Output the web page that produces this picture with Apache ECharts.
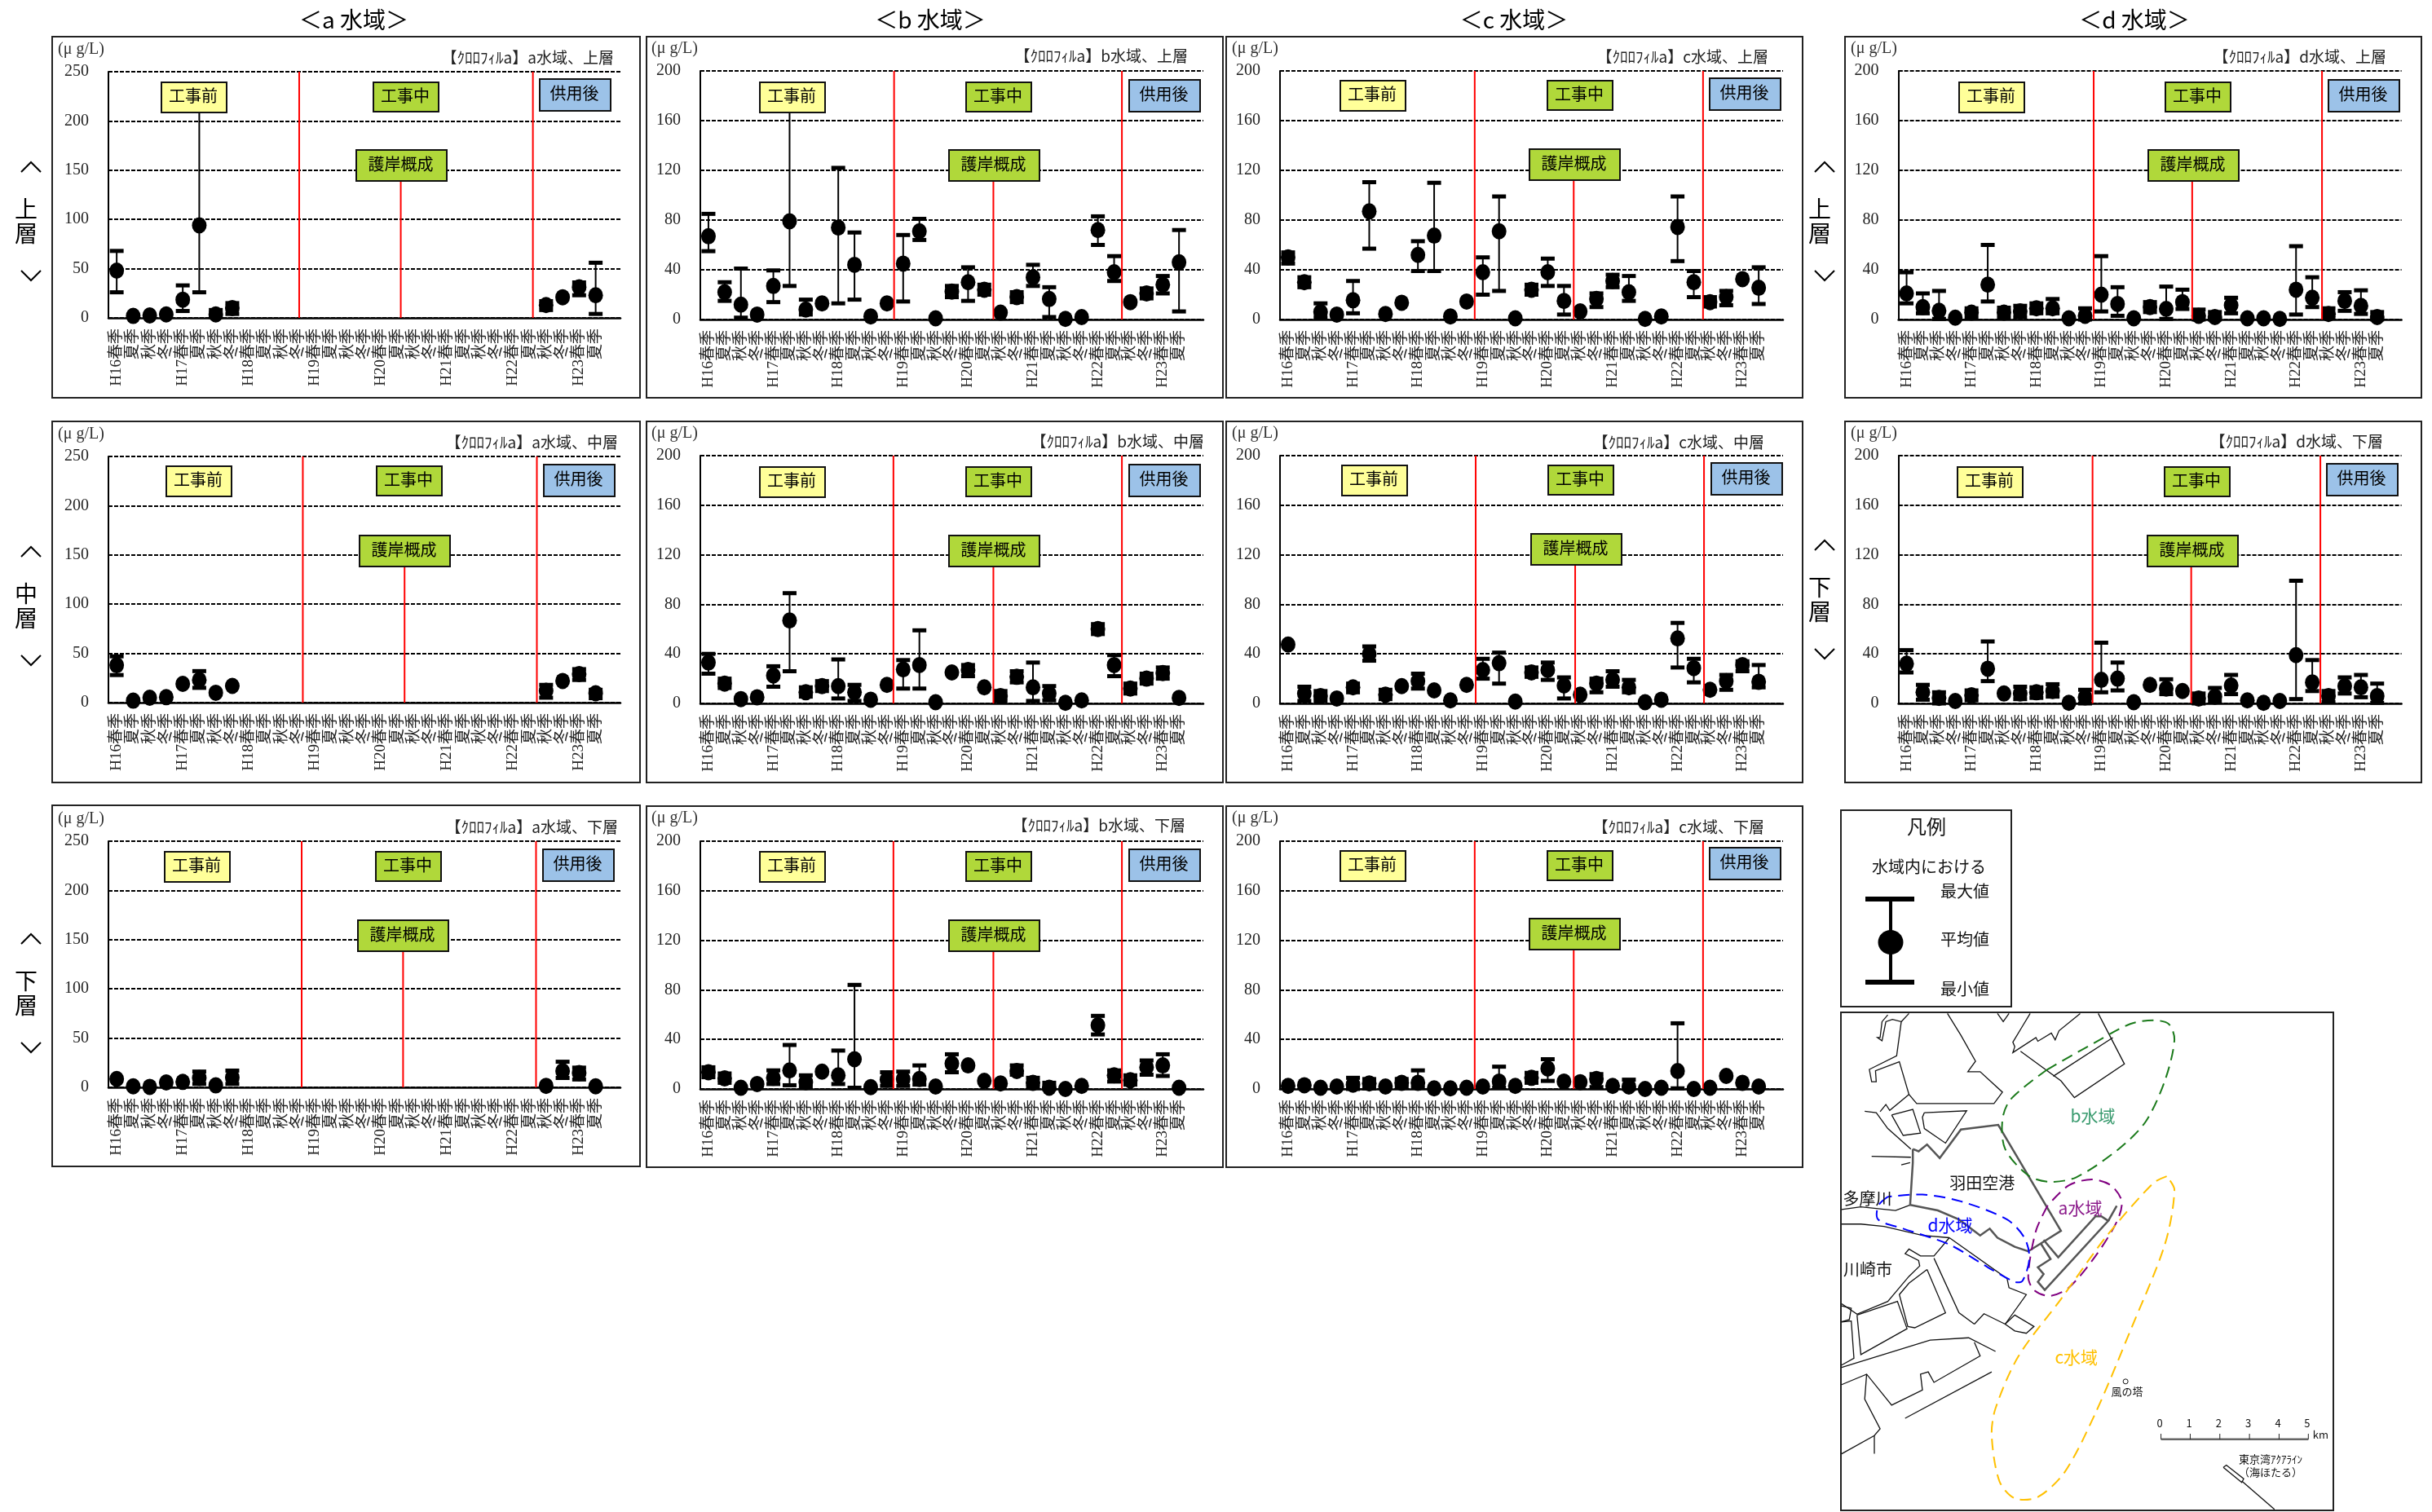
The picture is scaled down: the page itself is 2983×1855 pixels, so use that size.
<!DOCTYPE html>
<html style="height: 100%">
<head>
    <meta charset="utf-8">
    <script src="https://cdn.jsdelivr.net/npm/echarts@6/dist/echarts.min.js"></script>
</head>
<body style="height: 100%; margin: 0; background: #fff">
    <div id="container" style="width: 2983px; height: 1855px"></div>
    <script type="text/javascript">
        var myChart = echarts.init(document.getElementById('container'));

        const serif = '"Liberation Serif", "Noto Sans CJK JP", serif';
        const gothic = '"Noto Sans CJK JP", sans-serif';
        const N = null;

        // 横軸ラベル（最後の1区間は空き）
        const categories = [
            'H16春季', '夏季', '秋季', '冬季', 'H17春季', '夏季', '秋季', '冬季',
            'H18春季', '夏季', '秋季', '冬季', 'H19春季', '夏季', '秋季', '冬季',
            'H20春季', '夏季', '秋季', '冬季', 'H21春季', '夏季', '秋季', '冬季',
            'H22春季', '夏季', '秋季', '冬季', 'H23春季', '夏季', ''
        ];
        const ticksA = 50, ticksB = 40;

        // a水域
        const aUpperMean = [48, 2, 2.5, 3.5, 18.5, 94, 3.5, 10, N, N, N, N, N, N, N, N, N, N, N, N, N, N, N, N, N, N, 13, 21, 31, 23];
        const aUpperMax = [68, N, N, N, 33, 210, 8, 15, N, N, N, N, N, N, N, N, N, N, N, N, N, N, N, N, N, N, 17, N, 36, 56];
        const aUpperMin = [26, N, N, N, 7, 26, 1, 4, N, N, N, N, N, N, N, N, N, N, N, N, N, N, N, N, N, N, 8, N, 23, 4];
        const aMiddleMean = [38, 2, 5, 5.5, 19, 23, 10, 17, N, N, N, N, N, N, N, N, N, N, N, N, N, N, N, N, N, N, 12, 22, 29, 9.5];
        const aMiddleMax = [47, N, N, N, N, 32, N, N, N, N, N, N, N, N, N, N, N, N, N, N, N, N, N, N, N, N, 18, N, 34, 13];
        const aMiddleMin = [28, N, N, N, N, 15, N, N, N, N, N, N, N, N, N, N, N, N, N, N, N, N, N, N, N, N, 5, N, 23, 4.5];
        const aLowerMean = [8.5, 1, 0.5, 5, 5.5, 9.5, 2, 10, N, N, N, N, N, N, N, N, N, N, N, N, N, N, N, N, N, N, 1.5, 16.5, 14.5, 1];
        const aLowerMax = [N, N, N, N, N, 16, N, 17, N, N, N, N, N, N, N, N, N, N, N, N, N, N, N, N, N, N, N, 26, 20, N];
        const aLowerMin = [N, N, N, N, N, 3.5, N, 3.5, N, N, N, N, N, N, N, N, N, N, N, N, N, N, N, N, N, N, N, 9.5, 8, N];

        // b水域
        const bUpperMean = [67, 22, 12, 4, 27, 79, 8, 13, 74, 44, 2.5, 13, 45, 71, 1, 22.5, 30, 24, 5.5, 18, 34, 16.5, 0.5, 2, 72, 38, 14, 21, 28, 46];
        const bUpperMax = [85, 30, 41, N, 39.5, 168, 16, N, 122, 70, N, N, 68, 81, N, 27, 42, 28, N, 22, 44, 26, N, N, 83, 51, N, 25, 35, 72];
        const bUpperMin = [55, 15, 1.5, N, 14, 27, 4, N, 13, 16, N, N, 14.5, 64, N, 18, 15, 20, N, 14, 27, 2, N, N, 60, 31, N, 17, 21, 6.5];
        const bMiddleMean = [33, 16, 3.5, 5, 22.5, 67, 9, 14, 14, 9, 3, 15, 27.5, 31, 1, 25, 27, 13, 6, 21.5, 13, 8, 0.5, 2.5, 60, 31, 12, 20, 24.5, 4.5];
        const bMiddleMax = [40, 20, N, N, 30, 89, 13, 18, 35.5, 15, N, N, 35, 59, N, N, 31, N, 10, 26, 33, 14, N, N, 64, 39, 16, 24, 29, N];
        const bMiddleMin = [24, 12.5, N, N, 13.5, 26, 5.5, 10, 4, 2, N, N, 12, 12, N, N, 22, N, 2, 17, 2, 2.5, N, N, 56, 22, 8, 16, 20, N];
        const bLowerMean = [13.5, 8.5, 1, 4, 9, 15, 5.5, 14, 11, 24, 1.5, 7.5, 8, 8, 2, 20.5, 19, 6.5, 4.5, 14.5, 5, 1, 0, 2.5, 51.5, 11, 7, 17.5, 19, 1];
        const bLowerMax = [17.5, 12.5, N, N, 15, 35.5, 11, N, 31, 84, N, 13.5, 14, 19, N, 28, N, N, N, 19, 9, 5, N, N, 59, 15, 11, 23, 28, N];
        const bLowerMin = [9.5, 5, N, N, 4, 3, 1.5, N, 4, 1, N, 2.5, 2.5, 3.5, N, 13.5, N, N, N, 11.5, 1.5, 0, N, N, 44, 6, 3.5, 11.5, 10.5, N];

        // c水域
        const cUpperMean = [50, 30, 6, 4, 15.5, 87, 4.5, 13.5, 52, 67.5, 2.5, 14.5, 38, 71, 1, 24, 38, 15, 6.5, 16.5, 31, 22, 0.5, 2.5, 74.5, 30, 14, 18, 32.5, 25.5];
        const cUpperMax = [54, 34, 13, N, 31, 110.5, N, N, 63, 110, N, N, 50, 99, N, 28, 49, 27, N, 21, 36, 35, N, N, 99, 39, 18, 23, N, 42];
        const cUpperMin = [45, 26, 1.5, N, 5, 57, N, N, 39, 39, N, N, 20, 23, N, 20, 27, 4, N, 10, 26, 15, N, N, 47, 18, 10.5, 11.5, N, 12.5];
        const cMiddleMean = [47.5, 8, 6, 4, 13, 40, 7, 14, 18, 10.5, 2.5, 15, 27, 32.5, 1.5, 25, 27, 14.5, 7, 16, 19, 13, 1, 3, 52.5, 28.5, 11, 18, 31, 17.5];
        const cMiddleMax = [N, 13.5, 10, N, 16, 46, 11, N, 24, N, N, N, 36, 41, N, 29, 33, 21, N, 20, 26, 19, N, N, 65, 36, N, 23, 34, 31];
        const cMiddleMin = [N, 2, 2, N, 9, 34.5, 3.5, N, 12, N, N, N, 20, 16, N, 21.5, 19, 4, N, 9, 13.5, 9, N, N, 29, 17, N, 11, 26, 13];
        const cLowerMean = [2.5, 3, 1, 2, 3.5, 4.5, 2, 5, 5, 0.5, 0.5, 1, 2, 6, 2.5, 9, 16.5, 6, 5.5, 8, 2.5, 2, 0, 1, 14.5, 0, 1, 10.5, 5, 2];
        const cLowerMax = [N, N, N, N, 9, 8, N, 8, 15, N, N, N, N, 18, N, 13, 24, N, N, 12, N, 7.5, N, N, 53, N, N, N, N, N];
        const cLowerMin = [N, N, N, N, 0, 0.5, N, 1.5, 1, N, N, N, N, 1, N, 5, 6.5, N, N, 1.5, N, 0, N, N, 0.5, N, N, N, N, N];

        // d水域
        const dUpperMean = [21, 10, 7, 1.5, 5.5, 28, 5.5, 6.5, 9, 9, 1, 3, 20, 12.5, 1, 10, 8.5, 14, 3, 2, 11.5, 1, 1, 0.5, 24, 17.5, 4.5, 15, 11, 2];
        const dUpperMax = [38, 21, 23, N, 9, 60, 9.5, 11, 13, 16.5, N, 9, 51, 26, N, 14, 26.5, 24, 8, 6, 17.5, N, N, N, 59, 34, 9, 22, 23.5, 6];
        const dUpperMin = [13, 5, 0.5, N, 1.5, 14.5, 1.5, 2, 5, 5, N, 0, 6.5, 3, N, 6, 0.5, 8.5, 0, 0, 5, N, N, N, 4, 10, 1, 7, 4.5, 0];
        const dLowerMean = [32, 9, 4.5, 2, 6.5, 28, 8, 8, 9, 10, 0.5, 5, 19, 20, 1, 15, 12, 10, 4, 5.5, 14.5, 2.5, 0.5, 2, 39, 17, 6, 14, 13, 6];
        const dLowerMax = [43, 15, 9, N, 10.5, 50, N, 13.5, 13, 15.5, N, 11, 49, 33, N, N, 19.5, N, 8, 12.5, 23, N, N, N, 99, 35, 10, 21, 23, 16];
        const dLowerMin = [25, 3, 0, N, 2.5, 18, N, 3.5, 4.5, 5.5, N, 0, 9, 10.5, N, N, 7.5, N, 0, 1.5, 7.5, N, N, N, 3.5, 10, 1, 8, 5, 0.5];

        // 各パネルのレイアウト（frame:枠, grid:軸の位置, boxes:注記の左上, reds:赤線の位置）
        const panels = [
            { name: 'a水域、上層', mean: aUpperMean, max: aUpperMax, min: aUpperMin, yMax: 250, step: ticksA, frame: [64, 45], grid: [133, 88, 628, 302], unit: [71, 61], title: [753, 71], boxes: [[198, 101], [458, 101], [662, 97], [437, 184]], reds: [11.55, 17.7, 25.7], midTop: 139 },
            { name: 'b水域、上層', mean: bUpperMean, max: bUpperMax, min: bUpperMin, yMax: 200, step: ticksB, frame: [793, 45], grid: [859, 87, 617, 305], unit: [799, 60], title: [1457, 69], boxes: [[932, 101], [1185, 101], [1385, 98], [1164, 184]], reds: [11.94, 18.06, 25.98], midTop: 112 },
            { name: 'c水域、上層', mean: cUpperMean, max: cUpperMax, min: cUpperMin, yMax: 200, step: ticksB, frame: [1504, 45], grid: [1570, 87, 617, 305], unit: [1511, 60], title: [2169, 70], boxes: [[1644, 99], [1898, 99], [2097, 96], [1876, 183]], reds: [12, 18.1, 26.07], midTop: 113 },
            { name: 'd水域、上層', mean: dUpperMean, max: dUpperMax, min: dUpperMin, yMax: 200, step: ticksB, frame: [2263, 45], grid: [2328.6, 87, 617, 305], unit: [2270, 60], title: [2927, 70], boxes: [[2403, 101], [2656, 101], [2856, 98], [2635, 184]], reds: [12.03, 18.1, 26.1], midTop: 112 },
            { name: 'a水域、中層', mean: aMiddleMean, max: aMiddleMax, min: aMiddleMin, yMax: 250, step: ticksA, frame: [64, 517], grid: [133, 560, 628, 302], unit: [71, 533], title: [758, 543], boxes: [[204, 572], [462, 572], [667, 570], [441, 657]], reds: [11.77, 17.93, 25.94], midTop: 139 },
            { name: 'b水域、中層', mean: bMiddleMean, max: bMiddleMax, min: bMiddleMin, yMax: 200, step: ticksB, frame: [793, 517], grid: [859, 559, 617, 304], unit: [799, 532], title: [1477, 542], boxes: [[932, 573], [1185, 573], [1385, 570], [1164, 657]], reds: [11.9, 18.06, 25.98], midTop: 112 },
            { name: 'c水域、中層', mean: cMiddleMean, max: cMiddleMax, min: cMiddleMin, yMax: 200, step: ticksB, frame: [1504, 517], grid: [1570, 559, 617, 304], unit: [1511, 532], title: [2164, 543], boxes: [[1646, 571], [1899, 571], [2099, 568], [1878, 655]], reds: [12.06, 18.19, 26.13], midTop: 113 },
            { name: 'd水域、下層', mean: dLowerMean, max: dLowerMax, min: dLowerMin, yMax: 200, step: ticksB, frame: [2263, 517], grid: [2328.6, 559, 617, 304], unit: [2270, 532], title: [2923, 542], boxes: [[2401, 573], [2655, 573], [2854, 569], [2634, 657]], reds: [11.96, 18.04, 26], midTop: 112 },
            { name: 'a水域、下層', mean: aLowerMean, max: aLowerMax, min: aLowerMin, yMax: 250, step: ticksA, frame: [64, 988], grid: [133, 1032, 628, 302], unit: [71, 1005], title: [758, 1015], boxes: [[202, 1045], [461, 1045], [666, 1042], [439, 1129]], reds: [11.7, 17.84, 25.89], midTop: 139 },
            { name: 'b水域、下層', mean: bLowerMean, max: bLowerMax, min: bLowerMin, yMax: 200, step: ticksB, frame: [793, 989], grid: [859, 1032, 617, 304], unit: [799, 1004], title: [1454, 1013], boxes: [[932, 1045], [1185, 1045], [1385, 1042], [1164, 1129]], reds: [11.9, 18.06, 25.98], midTop: 112 },
            { name: 'c水域、下層', mean: cLowerMean, max: cLowerMax, min: cLowerMin, yMax: 200, step: ticksB, frame: [1504, 989], grid: [1570, 1032, 617, 304], unit: [1511, 1004], title: [2164, 1015], boxes: [[1644, 1044], [1898, 1044], [2097, 1040], [1876, 1127]], reds: [12, 18.1, 26.07], midTop: 113 }
        ];

        // 注記ボックス
        const boxStyles = [
            { text: '工事前', w: 80, h: 37, fill: '#ffff99' },
            { text: '工事中', w: 80, h: 36, fill: '#b0d83a' },
            { text: '供用後', w: 87, h: 39, fill: '#9cc2e8' },
            { text: '護岸概成', w: 111, h: 38, fill: '#b0d83a' }
        ];

        var grid = [], xAxis = [], yAxis = [], series = [], graphic = [];

        function addText(text, x, y, size, family, opt) {
            graphic.push({
                type: 'text', z: 60, silent: true,
                style: Object.assign({
                    x: x, y: y, text: text, fontSize: size, fontFamily: family, fill: '#111',
                    align: 'center', verticalAlign: 'middle'
                }, opt || {})
            });
        }
        function addLine(points, color, width, opt) {
            graphic.push({
                type: 'polyline', z: 55, silent: true,
                shape: Object.assign({ points: points }, (opt && opt.smooth) ? { smooth: opt.smooth } : {}),
                style: { stroke: color, lineWidth: width, fill: 'none', lineDash: opt && opt.dash ? opt.dash : null }
            });
        }

        // 最大・最小のひげ
        function renderRange(params, api) {
            var top = api.coord([api.value(0), api.value(1)]);
            var bottom = api.coord([api.value(0), api.value(2)]);
            var capW = 17, capH = 5;
            return {
                type: 'group',
                children: [
                    { type: 'line', shape: { x1: top[0], y1: top[1], x2: bottom[0], y2: bottom[1] }, style: { stroke: '#000', lineWidth: 2 } },
                    { type: 'rect', shape: { x: top[0] - capW / 2, y: top[1] - capH / 2, width: capW, height: capH }, style: { fill: '#000' } },
                    { type: 'rect', shape: { x: bottom[0] - capW / 2, y: bottom[1] - capH / 2, width: capW, height: capH }, style: { fill: '#000' } }
                ]
            };
        }

        panels.forEach(function (p, i) {
            grid.push({ left: p.grid[0], top: p.grid[1], width: p.grid[2], height: p.grid[3] });
            xAxis.push({
                type: 'category', gridIndex: i, data: categories,
                axisLine: { lineStyle: { color: '#000', width: 2.5 } },
                axisTick: { show: false },
                axisLabel: { interval: 0, rotate: 90, fontSize: 19, margin: 13, color: '#222', fontFamily: serif, hideOverlap: false }
            });
            // 赤線用の隠し軸（区間単位）
            xAxis.push({ type: 'value', gridIndex: i, min: 0, max: 31, show: false, splitLine: { show: false } });
            yAxis.push({
                type: 'value', gridIndex: i, min: 0, max: p.yMax, interval: p.step,
                axisLine: { show: true, lineStyle: { color: '#000', width: 2 } },
                axisTick: { show: true, inside: true, length: 5, lineStyle: { color: '#000', width: 2 } },
                axisLabel: { fontSize: 20, margin: 24, color: '#222', fontFamily: serif, showMinLabel: true, showMaxLabel: true },
                splitLine: { show: true, lineStyle: { color: '#000', width: 2, type: [5, 2] } }
            });

            var ranges = [];
            p.mean.forEach(function (v, k) {
                if (p.max[k] != null) ranges.push([k, p.max[k], p.min[k]]);
            });
            series.push({
                type: 'custom', xAxisIndex: i * 2, yAxisIndex: i, clip: false, silent: true,
                data: ranges, encode: { x: 0, y: [1, 2] }, renderItem: renderRange, z: 3
            });
            series.push({
                type: 'scatter', xAxisIndex: i * 2, yAxisIndex: i, clip: false, silent: true,
                data: p.mean, symbol: 'circle', symbolSize: [18, 20],
                itemStyle: { color: '#000', opacity: 1 }, z: 4
            });
            // 赤線3本（中央の線は護岸概成の下から）
            p.reds.forEach(function (x, k) {
                series.push({
                    type: 'line', xAxisIndex: i * 2 + 1, yAxisIndex: i, clip: false, silent: true,
                    data: [[x, k === 1 ? p.midTop : p.yMax], [x, 0]],
                    showSymbol: false, lineStyle: { color: '#f00', width: 2 }, z: 5
                });
            });

            // 枠
            graphic.push({
                type: 'rect', z: 1, silent: true,
                shape: { x: p.frame[0], y: p.frame[1], width: 721 - (p.frame[0] < 100 ? 0 : 14), height: 443 },
                style: { fill: 'none', stroke: '#222', lineWidth: 2 }
            });
            addText('(μ g/L)', p.unit[0], p.unit[1], 20, serif, { align: 'left', fill: '#333' });
            addText('【ｸﾛﾛﾌｨﾙa】' + p.name, p.title[0], p.title[1], 19, gothic, { align: 'right', fill: '#222' });

            p.boxes.forEach(function (b, k) {
                var s = boxStyles[k];
                graphic.push({
                    type: 'rect', z: 50, silent: true,
                    shape: { x: b[0], y: b[1], width: s.w, height: s.h },
                    style: { fill: s.fill, stroke: '#111', lineWidth: 2 }
                });
                addText(s.text, b[0] + s.w / 2 - 1, b[1] + s.h / 2 - 2, 20, gothic, { fill: '#000' });
            });
        });

        // 見出し
        [['＜a 水域＞', 434], ['＜b 水域＞', 1141], ['＜c 水域＞', 1857], ['＜d 水域＞', 2618]].forEach(function (h) {
            addText(h[0], h[1], 24, 28, gothic, { fill: '#000' });
        });

        // 左の層ラベル
        [[32, 253, '上層'], [32, 725, '中層'], [32, 1200, '下層'], [2232, 253, '上層'], [2232, 717, '下層']].forEach(function (l) {
            var x = l[0], y = l[1];
            addText(l[2].charAt(0), x, y + 3, 28, gothic, { fill: '#000' });
            addText(l[2].charAt(1), x, y + 33, 28, gothic, { fill: '#000' });
            addLine([[x - 6, y - 42], [x + 6, y - 54], [x + 18, y - 42]], '#000', 2);
            addLine([[x - 6, y + 79], [x + 6, y + 91], [x + 18, y + 79]], '#000', 2);
        });

        // 凡例
        graphic.push({
            type: 'rect', z: 1, silent: true,
            shape: { x: 2258, y: 994, width: 209, height: 241 },
            style: { fill: 'none', stroke: '#222', lineWidth: 2 }
        });
        addText('凡例', 2363, 1014, 24, gothic);
        addText('水域内における', 2366, 1063, 20, gothic);
        addText('最大値', 2410, 1093, 20, gothic);
        addText('平均値', 2410, 1152, 20, gothic);
        addText('最小値', 2410, 1213, 20, gothic);
        addLine([[2319, 1103], [2319, 1205]], '#000', 4);
        addLine([[2288, 1103], [2348, 1103]], '#000', 6);
        addLine([[2288, 1205], [2348, 1205]], '#000', 6);
        graphic.push({
            type: 'ellipse', z: 56, silent: true,
            shape: { cx: 2319, cy: 1156, rx: 15.5, ry: 15 }, style: { fill: '#000' }
        });

        // 地図（切抜き基準の座標を実座標へ変換）
        function mx(x) { return 2240 + x / 2.119; }
        function my(y) { return 980 + y / 1.792; }
        function mp(list) { return list.map(function (q) { return [mx(q[0]), my(q[1])]; }); }
        graphic.push({
            type: 'rect', z: 1, silent: true,
            shape: { x: 2258, y: 1242, width: 604, height: 611 },
            style: { fill: 'none', stroke: '#222', lineWidth: 2 }
        });
        const coastLines = [
            [[160, 475], [145, 490], [140, 525], [133, 525], [145, 532], [155, 490], [172, 485], [195, 490], [183, 565], [112, 595], [118, 622], [130, 622], [128, 598], [190, 578], [215, 650], [235, 670], [436, 670], [458, 645], [400, 600], [368, 600], [388, 577], [350, 520], [315, 472]],
            [[215, 472], [195, 490]],
            [[445, 472], [460, 490], [475, 472]],
            [[530, 472], [510, 500], [485, 535], [490, 545], [485, 558], [545, 525], [550, 533], [585, 515], [595, 530], [605, 510], [660, 472]],
            [[505, 555], [610, 620], [645, 657], [775, 583], [707, 472]],
            [[590, 610], [745, 525]],
            [[100, 687], [130, 690], [160, 725], [220, 770]],
            [[140, 688], [155, 672], [165, 685], [215, 650]],
            [[170, 695], [225, 683], [245, 735], [200, 740], [170, 695]],
            [[255, 690], [365, 686], [310, 757], [255, 725], [250, 700], [255, 690]],
            [[40, 903], [90, 897], [180, 905], [218, 893]],
            [[40, 935], [90, 935], [150, 940], [250, 960], [320, 965]],
            [[118, 786], [220, 788]],
            [[195, 805], [218, 800]],
            [[320, 965], [470, 1055], [475, 1075], [520, 1090], [465, 1155], [410, 1132], [385, 1155]],
            [[320, 965], [280, 1005], [245, 1005], [215, 990], [205, 1000], [240, 1015], [243, 1027], [215, 1050], [190, 1075], [160, 1105], [80, 1133], [40, 1110]],
            [[262, 1035], [310, 1130], [230, 1163], [212, 1160], [190, 1090], [215, 1065], [262, 1035]],
            [[280, 1010], [345, 1130], [385, 1155]],
            [[80, 1135], [185, 1105], [210, 1165], [90, 1222], [80, 1135]],
            [[40, 1115], [65, 1120], [60, 1145], [40, 1150]],
            [[40, 1150], [65, 1148], [72, 1230], [40, 1245]],
            [[465, 1155], [490, 1135], [540, 1160], [520, 1175], [490, 1170], [465, 1155]],
            [[40, 1250], [270, 1190], [370, 1185], [440, 1215]],
            [[385, 1195], [400, 1225], [280, 1283], [265, 1260], [245, 1265], [250, 1300], [170, 1333], [105, 1265], [40, 1288]],
            [[105, 1265], [100, 1320], [140, 1385], [125, 1400], [40, 1440]],
            [[205, 1362], [430, 1260]],
            [[125, 1400], [125, 1440]],
            [[1080, 1500], [1165, 1562]],
            [[1032, 1470], [1040, 1465], [1085, 1495], [1080, 1503], [1032, 1470]]
        ];
        const airportLines = [
            [[225, 770], [240, 775], [262, 760], [295, 790], [350, 727], [447, 717], [610, 950], [525, 995], [490, 985], [445, 965], [425, 945], [400, 960], [345, 925], [290, 905], [218, 893], [225, 800], [225, 770]],
            [[565, 970], [603, 1008], [700, 918], [715, 918], [733, 928], [568, 1080], [550, 1062], [565, 1045], [550, 1030], [583, 1012], [558, 978]],
            [[733, 928], [755, 895]]
        ];
        coastLines.forEach(function (l) { addLine(mp(l), '#111', 1.3); });
        airportLines.forEach(function (l) { addLine(mp(l), '#555', 2.5); });

        const zones = [
            { color: '#1a7a1a', points: [[575, 595], [480, 660], [458, 705], [465, 770], [525, 828], [580, 842], [650, 832], [760, 770], [830, 710], [880, 620], [905, 530], [890, 495], [850, 487], [790, 495], [700, 535], [575, 595]] },
            { color: '#800080', points: [[575, 895], [545, 950], [525, 1050], [540, 1080], [580, 1093], [630, 1075], [700, 1005], [755, 930], [768, 885], [740, 850], [690, 837], [630, 850], [575, 895]] },
            { color: '#0000ff', points: [[160, 875], [135, 895], [135, 925], [200, 945], [320, 980], [420, 1030], [490, 1062], [510, 1060], [528, 1010], [515, 965], [470, 925], [350, 885], [250, 870], [160, 875]] },
            { color: '#ffc000', points: [[885, 830], [850, 845], [730, 960], [610, 1100], [500, 1225], [440, 1340], [430, 1400], [450, 1500], [490, 1538], [550, 1535], [620, 1480], [700, 1350], [790, 1170], [880, 980], [905, 860], [885, 830]] }
        ];
        zones.forEach(function (z) { addLine(mp(z.points), z.color, 2, { dash: [14, 8], smooth: 0.3 }); });

        addText('羽田空港', mx(405), my(845), 20, gothic);
        addText('多摩川', mx(107), my(878), 20, gothic);
        addText('川崎市', mx(108), my(1035), 20, gothic);
        addText('b水域', mx(693), my(697), 21, gothic, { fill: '#3a9b6f' });
        addText('a水域', mx(660), my(900), 21, gothic, { fill: '#8b1a8b' });
        addText('d水域', mx(322), my(937), 21, gothic, { fill: '#0000ff' });
        addText('c水域', mx(650), my(1227), 21, gothic, { fill: '#ffc000' });
        addText('風の塔', mx(782), my(1303), 13, gothic);
        graphic.push({
            type: 'circle', z: 56, silent: true,
            shape: { cx: mx(778), cy: my(1281), r: 3 }, style: { fill: '#fff', stroke: '#111', lineWidth: 1 }
        });
        addText('東京湾ｱｸｱﾗｲﾝ', mx(1155), my(1452), 13, gothic);
        addText('（海ほたる）', mx(1155), my(1480), 13, gothic);

        // スケール
        addLine(mp([[870, 1408], [1253, 1408]]), '#666', 2.5);
        [[870, '0'], [946, '1'], [1023, '2'], [1100, '3'], [1177, '4'], [1253, '5']].forEach(function (t) {
            addLine(mp([[t[0], 1396], [t[0], 1408]]), '#222', 1);
            addText(t[1], mx(t[0] - 3), my(1373), 13, gothic);
        });
        addText('km', mx(1285), my(1398), 13, gothic);

        option = {
            animation: false,
            backgroundColor: '#fff',
            grid: grid,
            xAxis: xAxis,
            yAxis: yAxis,
            series: series,
            graphic: { elements: graphic }
        };

        myChart.setOption(option);
        window.addEventListener('resize', function () { myChart.resize(); });
    </script>
</body>
</html>
